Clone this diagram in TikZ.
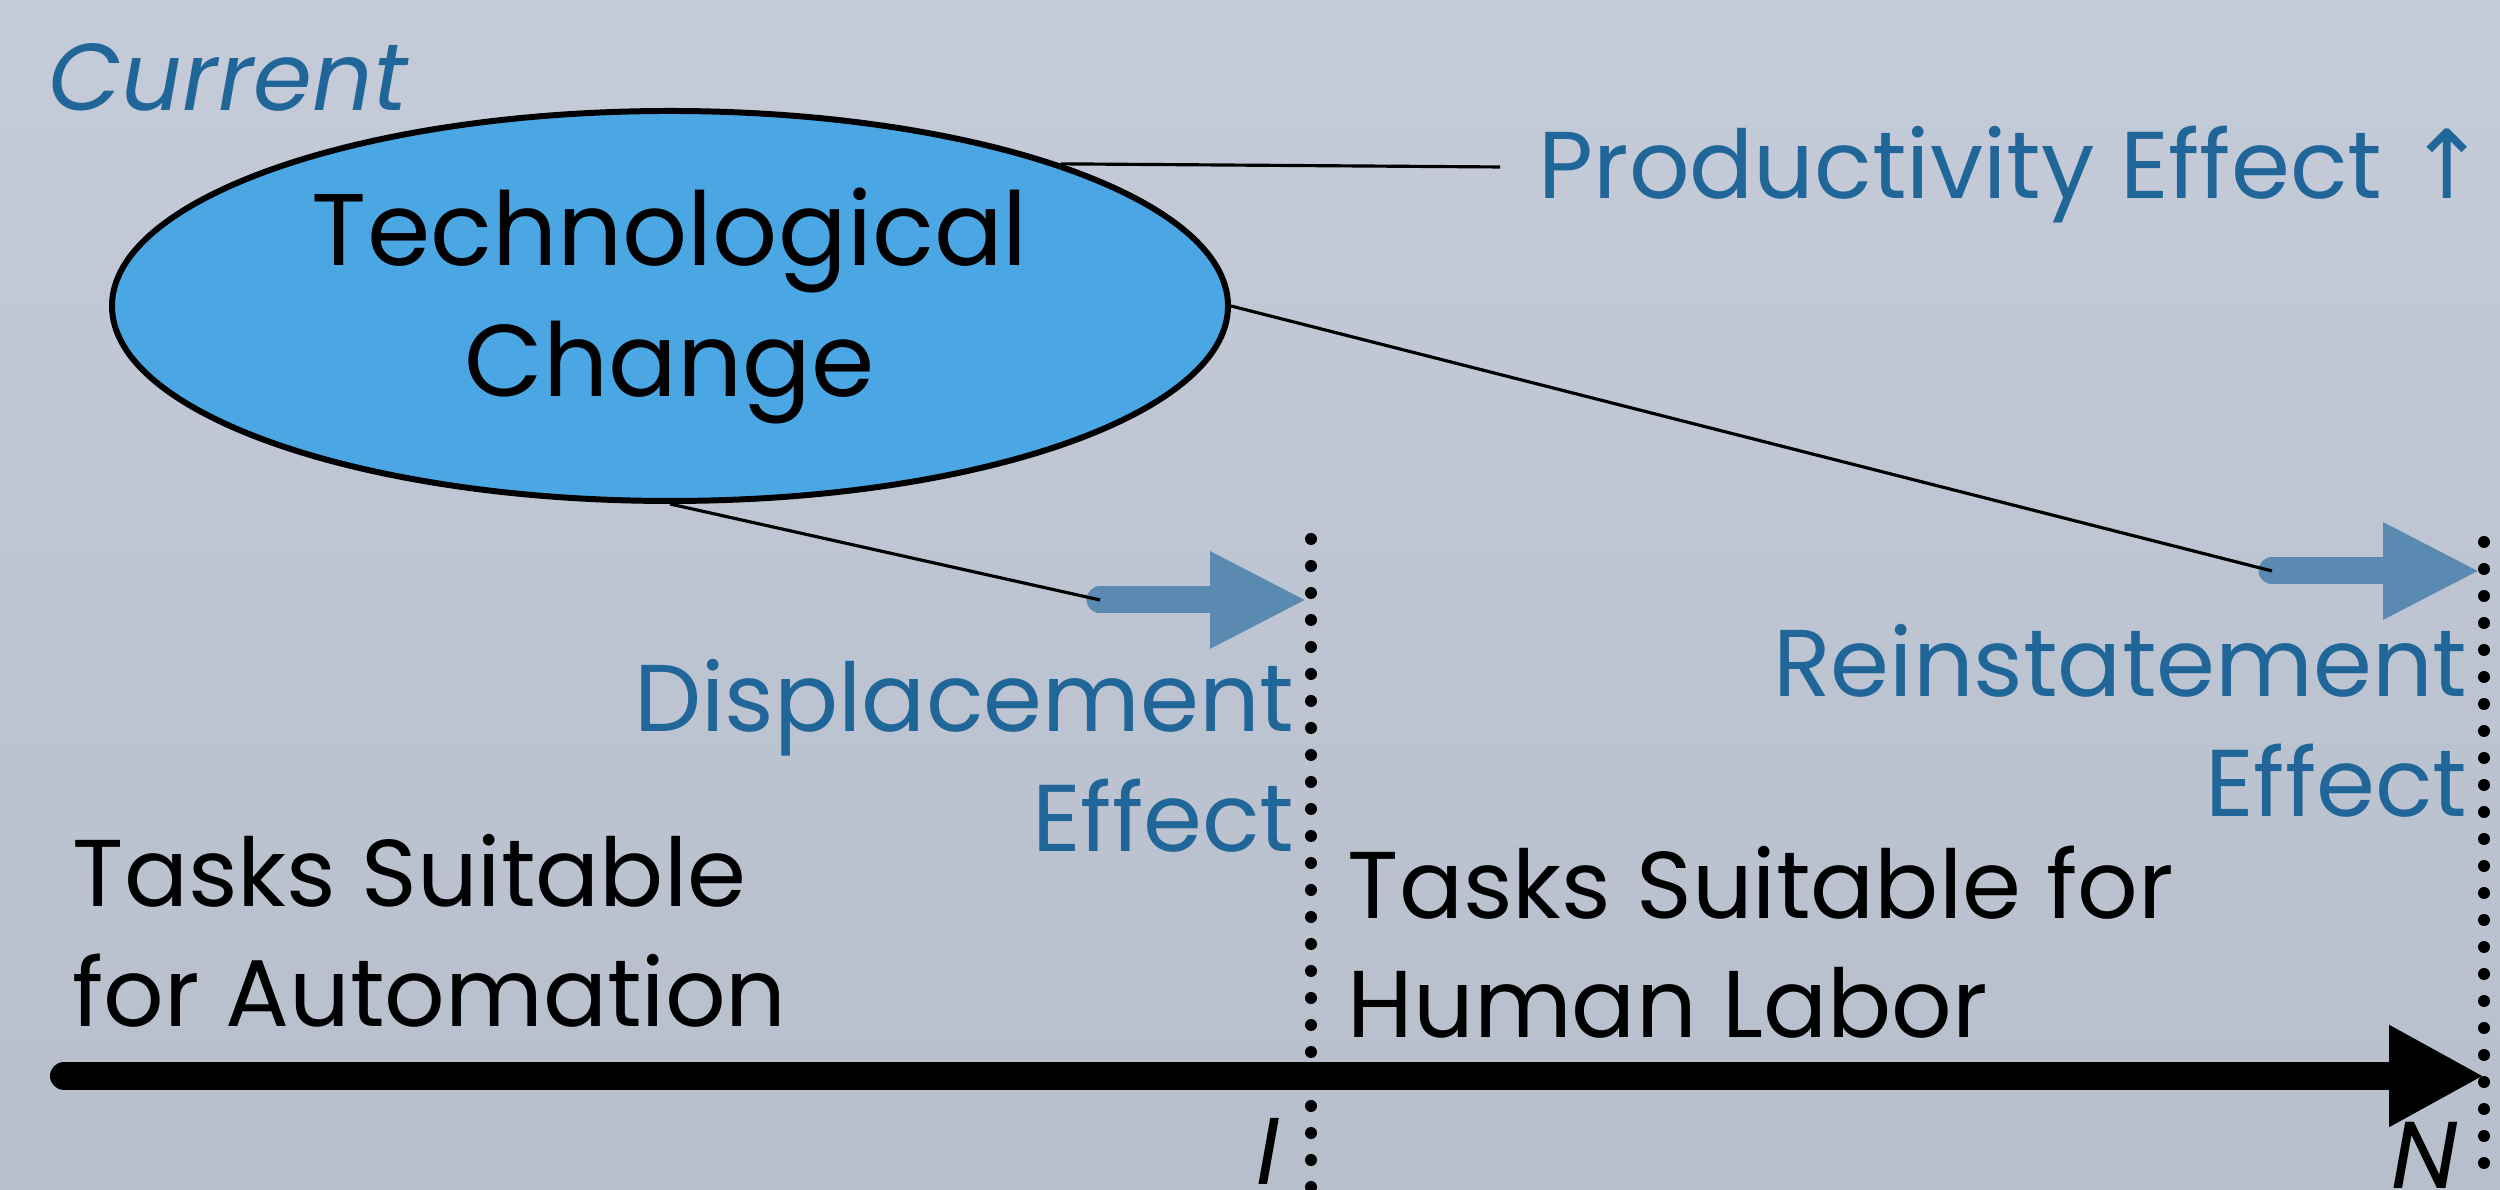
\documentclass[tikz,border=0pt]{standalone}
\usepackage{fontspec}
\usepackage{tikz}
\usetikzlibrary{arrows.meta, shapes.geometric}

\setmainfont{Poppins}
\newfontfamily\arrowfont{DejaVu Sans}

\definecolor{bgtop}{RGB}{197,203,216}
\definecolor{bgbottom}{RGB}{183,190,204}
\definecolor{techfill}{RGB}{74,167,228}
\definecolor{efftext}{RGB}{33,102,153}
\definecolor{effarrow}{RGB}{90,138,178}

\tikzset{
  lbl/.style={inner sep=0pt, font=\fontsize{27}{34}\selectfont},
  efflbl/.style={lbl, text=efftext},
  techbubble/.style={ellipse, draw, line width=1.7pt, fill=techfill,
    minimum width=11.16cm, minimum height=3.9cm, align=center, inner sep=0pt,
    font=\fontsize{29}{37}\selectfont},
  link/.style={line width=0.9pt},
  effect/.style={line width=0.27cm, color=effarrow, line cap=round,
    -{Triangle[length=0.97cm, width=0.9cm]}},
  taskaxis/.style={line width=0.28cm, line cap=round,
    -{Triangle[length=0.95cm, width=0.95cm]}},
  cutoff/.style={line width=0.12cm, line cap=round, dash pattern=on 0pt off 0.27cm}
}

\begin{document}
\begin{tikzpicture}
      \shade[top color=bgtop, bottom color=bgbottom] (0,0) rectangle (25,11.9);
      \useasboundingbox (0,0) rectangle (25,11.9);

      % the change and its three effects
      \node[efflbl, anchor=west, font=\fontsize{27}{34}\selectfont\itshape] (current) at (0.48,11.13) {Current};
      \node[techbubble] (tech) at (6.70,8.84) {Technological\\Change};

      \node[efflbl, anchor=west] (prod) at (15.38,10.15) {Productivity Effect {\arrowfont↑}};
      \draw[link] (tech.20) -- ([xshift=-0.38cm,yshift=0.08cm]prod.west);

      % task thresholds
      \coordinate (Itop) at (13.11,6.51);
      \coordinate (Ibot) at (13.11,0);
      \coordinate (Ntop) at (24.84,6.48);
      \coordinate (Nbot) at (24.84,0);
      \draw[cutoff] (Itop) -- (Ibot);
      \draw[cutoff] (Ntop) -- (Nbot);

      \coordinate (dstart) at (11.00,5.90);
      \coordinate (dtip) at (13.07,5.90);
      \draw[effect] (dstart) -- (dtip);
      \draw[link] (tech.south) -- (dstart);
      \node[efflbl, anchor=east, align=right] (disp) at (12.95,4.34) {Displacement\\Effect};

      \coordinate (rstart) at (22.72,6.19);
      \coordinate (rtip) at (24.80,6.19);
      \draw[effect] (rstart) -- (rtip);
      \draw[link] (tech.east) -- (rstart);
      \node[efflbl, anchor=east, align=right] (reinst) at (24.68,4.69) {Reinstatement\\Effect};

      % the task axis
      \coordinate (axstart) at (0.64,1.14);
      \coordinate (axtip) at (24.84,1.14);
      \draw[taskaxis] (axstart) -- (axtip);

      \node[lbl, anchor=west, align=left] (auto) at (0.72,2.59) {Tasks Suitable\\for Automation};
      \node[lbl, anchor=west, align=left] (human) at (13.47,2.48) {Tasks Suitable for\\Human Labor};

      \node[lbl, anchor=north, font=\fontsize{27}{34}\selectfont\itshape] (ilabel) at (12.68,0.72) {I};
      \node[lbl, anchor=north, font=\fontsize{27}{34}\selectfont\itshape] (nlabel) at (24.25,0.68) {N};

    \end{tikzpicture}
\end{document}
